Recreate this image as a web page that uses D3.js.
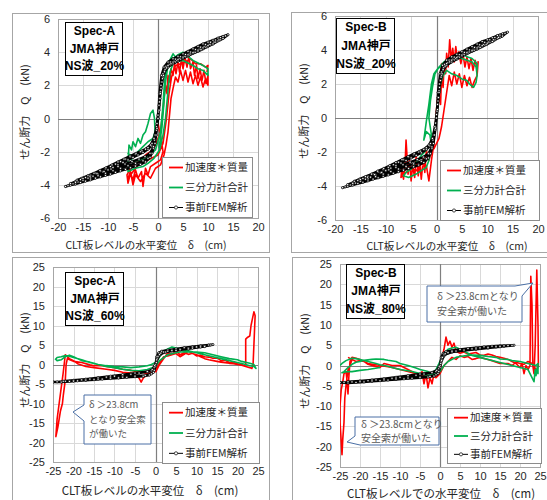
<!DOCTYPE html>
<html>
<head>
<meta charset="utf-8">
<script src="https://cdn.jsdelivr.net/npm/d3@7"></script>
<style>
  body { margin: 0; background: #fff; }
  text { font-family: "Liberation Sans", "Noto Sans CJK JP", sans-serif; }
</style>
</head>
<body>
<div id="chart"></div>
<script>
// ---------------------------------------------------------------
// data  [delta (cm), Q (kN)]
// ---------------------------------------------------------------
var legendLabels = ["加速度＊質量", "三分力計合計", "事前FEM解析"];
var specA20 = ["Spec-A", "JMA神戸", "NS波_20%"];
var specB20 = ["Spec-B", "JMA神戸", "NS波_20%"];
var specA60 = ["Spec-A", "JMA神戸", "NS波_60%"];
var specB80 = ["Spec-B", "JMA神戸", "NS波_80%"];
var ticksTopX = [-20, -15, -10, -5, 0, 5, 10, 15, 20];
var ticksTopY = [-6, -4, -2, 0, 2, 4, 6];
var ticksBotX = [-25, -20, -15, -10, -5, 0, 5, 10, 15, 20, 25];
var ticksBotY = [-25, -20, -15, -10, -5, 0, 5, 10, 15, 20, 25];

// FEM loops of the 20% runs (same for Spec-A and Spec-B)
var femTop = [
  [0,0],[0.3,1.5],[0.7,2.6],[1.2,3.1],[2,3.4],[3,3.6],[4,3.75],[5,3.9],[6,4.05],[7,4.2],[8,4.35],[9,4.5],[10,4.6],[11,4.72],[12,4.85],[13,4.95],[14,5.05],
  [13,4.82],[12,4.68],[11,4.5],[10,4.36],[9,4.2],[8,4.05],[7,3.92],[6,3.78],[5,3.62],[4,3.46],[3,3.3],[2,3.1],[1.3,2.8],[0.7,2.2],[0.3,1.2],[0,0.2],[-0.3,-0.7],[-0.7,-1.3],[-1.3,-1.65],[-2,-1.85],[-3,-2.05],[-4,-2.2],[-5,-2.35],[-6,-2.5],[-7,-2.65],[-8,-2.8],[-9,-2.95],[-10,-3.1],[-11,-3.22],[-12,-3.35],[-13,-3.48],[-14,-3.6],[-15,-3.72],[-16,-3.83],[-17,-3.94],[-18,-4.05],[-18.5,-4.1],
  [-17.5,-4.02],[-16.5,-3.95],[-15.5,-3.86],[-14.5,-3.78],[-13.5,-3.7],[-12.5,-3.6],[-11.5,-3.52],[-10.5,-3.43],[-9.5,-3.35],[-8.5,-3.25],[-7.5,-3.16],[-6.5,-3.07],[-5.5,-2.97],[-4.5,-2.87],[-3.5,-2.77],[-2.5,-2.62],[-1.6,-2.35],[-0.9,-1.8],[-0.4,-1.0],[0,0],[0.3,1.0],[0.6,2.0],[1,2.7],[1.6,3.15],[2.5,3.4],[3.5,3.58],[4.5,3.72],[5.5,3.86],[6.5,4.0],[7.5,4.15],[8.5,4.3],[9.5,4.45],[10.5,4.6],[11.5,4.73],[12.5,4.87],[13.5,4.98],
  [12.5,4.75],[11.5,4.6],[10.5,4.45],[9.5,4.3],[8.5,4.16],[7.5,4.02],[6.5,3.88],[5.5,3.73],[4.5,3.58],[3.5,3.42],[2.5,3.25],[1.6,3.0],[1,2.5],[0.5,1.6],[0.1,0.4],[-0.3,-0.5],[-0.8,-1.2],[-1.5,-1.6],[-2.5,-1.85],[-3.5,-2.0],[-4.5,-2.15],[-5.5,-2.3],[-6.5,-2.45],[-7.5,-2.6],[-8.5,-2.75],[-9.5,-2.9],[-10.5,-3.03],[-11.5,-3.17],[-12.5,-3.3],[-13.5,-3.43],[-14.5,-3.56],[-15.5,-3.68],[-16.5,-3.8],[-17.5,-3.92],
  [-16.5,-3.85],[-15,-3.72],[-13.5,-3.58],[-12,-3.45],[-10.5,-3.3],[-9,-3.15],[-7.5,-3.0],[-6,-2.85],[-4.5,-2.7],[-3,-2.55],[-2,-2.4],[-1.2,-2.1],[-0.6,-1.5],[-0.2,-0.6],[0.2,0.5],[0.5,1.5],[0.9,2.4],[1.4,2.95],[2.2,3.25],[3.2,3.45],[4.2,3.6],[5.2,3.74],[6.2,3.88],[7.2,4.02],[8.2,4.17],[9.2,4.32],[10.2,4.46],[11.2,4.6],[12.2,4.74],
  [11,4.5],[9.8,4.32],[8.6,4.15],[7.4,3.98],[6.2,3.82],[5,3.66],[3.8,3.5],[2.6,3.3],[1.7,3.05],[1.1,2.6],[0.6,1.8],[0.2,0.8],[-0.2,-0.3],[-0.6,-1.0],[-1.2,-1.5],[-2,-1.75],[-3.2,-1.95],[-4.4,-2.1],[-5.6,-2.27],[-6.8,-2.45],[-8,-2.62],[-9.2,-2.8],[-10.4,-2.97],[-11.6,-3.13],[-12.8,-3.3],[-14,-3.45],[-15.2,-3.6],[-16.2,-3.72],
  [-15,-3.62],[-13.6,-3.48],[-12.2,-3.33],[-10.8,-3.2],[-9.4,-3.05],[-8,-2.9],[-6.6,-2.75],[-5.2,-2.6],[-3.8,-2.45],[-2.6,-2.3],[-1.6,-2.1],[-0.9,-1.7],[-0.4,-1.0],[0,0],[0.4,1.2],[0.8,2.2],[1.3,2.85],[2,3.2],[3,3.4],[4,3.55],[5,3.7],[6,3.84],[7,3.98],[8,4.12],[9,4.26],[10,4.4]
];

var redA20 = [
  [0,-0.3],[0.6,-1.2],[1,-2],[0.5,-2.5],[-0.5,-2.7],[-1.5,-2.9],[-2,-3.4],[-2.5,-3.0],[-3,-4.1],[-3.3,-3.2],[-4,-3.6],[-4.5,-3.1],[-5,-3.7],[-5.5,-3.3],[-6,-3.9],[-6.2,-3.4],[-5.5,-3.0],[-4.5,-2.6],[-3.5,-2.5],[-2.5,-2.2],[-1.5,-2.0],[-0.5,-1.6],[0.5,-0.8],[1,0.5],[1.3,1.5],[1.5,2.0],[1.8,1.5],[2,2.6],[2.3,2.2],[2.6,3.0],[3,2.6],[3.3,3.3],[3.6,2.7],[4,3.4],[4.3,2.8],[4.7,3.6],[5,3.0],[5.4,3.7],[5.8,3.1],[6.2,3.8],[6.5,3.0],[7,3.4],[7.3,2.6],[7.7,3.2],[8,2.4],[8.4,3.0],[8.8,2.3],[9.2,2.9],[9.6,2.1],[10,2.6],
  [10,2.0],[9.5,2.4],[9,1.9],[8.5,2.5],[8,2.0],[7.5,2.6],[7,2.1],[6.5,2.8],[6,2.2],[5.5,2.9],[5,2.3],[4.5,2.9],[4,2.2],[3.5,2.5],[3,1.8],[2.6,1.2],[2.3,0.2],[2,-0.8],[1.6,-1.6],[1.2,-2.2],[0.5,-2.8],[-0.5,-3.0],[-1.5,-3.6],[-2.5,-3.3],[-3.5,-3.8],[-4.5,-3.4],[-5,-4.0],[-5.5,-3.2],[-6,-3.6],
  [-4,-2.8],[-2,-2.5],[0,-2.2],[1,-1.5],[1.7,0],[2.2,1.5],[2.7,2.5],[3.5,3.2],[4.5,3.3],[5.5,3.4],[6.5,3.6],[7.5,3.3],[8.5,3.3],[9.5,3.1],[10,3.2],[9.8,2.8]
];
var greenA20 = [
  [0.2,-1.8],[0.8,-0.5],[1.2,1],[1.5,2.2],[1.9,3.0],[2.5,3.6],[3,3.9],[3.5,3.7],[4,3.85],[5,4.0],[5.5,3.8],[6,3.75],[7,3.5],[8,3.35],[9,3.2],[10,3.0],[10,2.6],[9,2.9],[8,3.0],[7,3.2],[6,3.35],[5,3.5],[4,3.45],[3,3.3],[2.4,2.8],[2.1,2.0],[1.8,1.0],[1.5,0],[1.0,-1.0],[0.3,-1.9],[-0.8,-2.4],[-2,-2.7],[-3,-2.9],[-4.5,-3.0],[-6,-3.2],
  [-6,-2.6],[-5.8,-1.6],[-5.3,-1.9],[-5,-1.4],[-4.5,-1.7],[-4,-1.2],[-3.5,-1.5],[-3,-1.0],[-2.5,-0.8],[-2,-0.3],[-1.5,0.3],[-1,0.5],[-0.7,0],[-0.6,-0.8],[-1,-1.2],[-2,-1.4],[-3,-1.7],[-4,-2.0],[-5,-2.3],[-6,-2.1],[-5,-2.6],[-3.5,-2.5],[-2,-2.3],[-0.5,-1.9],[0.5,-0.8],[1,0.8],[1.3,2.2],[1.7,3.1],[2.3,3.5],[3,3.7]
];

var redB20 = [
  [0,0],[0.4,1.5],[0.8,0.8],[1,2.5],[1.3,1.8],[1.5,3.2],[1.8,2.6],[2,3.8],[2.3,3.0],[2.6,4.6],[2.9,3.4],[3.2,4.1],[3.5,3.3],[3.8,4.2],[4.1,3.5],[4.4,3.9],[4.8,3.2],[5.2,3.8],[5.6,3.0],[6,3.6],[6.4,2.9],[6.8,3.5],[7.2,2.8],[7.6,3.4],[8,2.9],[8.2,3.3],
  [8,2.5],[7.5,2.2],[7,1.8],[6.5,2.4],[6,1.9],[5.5,2.5],[5,1.8],[4.5,2.6],[4,2.0],[3.5,2.7],[3,1.9],[2.5,2.5],[2,1.5],[1.5,0.5],[1,-0.5],[0.5,-1.2],[0,-1.5],[-0.5,-1.8],[-1,-2.0],[-1.5,-2.5],[-2,-1.9],[-2.3,-3.2],[-2.6,-2.4],[-3,-3.6],[-3.3,-2.6],[-3.6,-3.4],[-4,-2.2],[-4.3,-3.5],[-4.7,-2.8],[-5,-3.7],[-5.3,-2.5],[-5.6,-3.3],[-6,-1.3],[-6.2,-2.8],[-6.5,-3.6],[-6.8,-2.9],[-7,-3.5],
  [-6,-3.2],[-5,-3.0],[-4,-3.1],[-3,-2.7],[-2,-2.8],[-1.5,-3.7],[-1,-2.5],[-0.5,-1.5],[0,0.5],[0.5,2],[1,3.2],[1.5,2.8],[2,3.6]
];
var greenB20 = [
  [-0.5,-1.5],[-1,-1.0],[-1.5,0],[-1.2,1],[-0.8,1.8],[-0.3,2.6],[0.3,2.9],[1,3.1],[2,3.3],[3,3.5],[4,3.6],[5,3.5],[6,3.4],[7,3.3],[7.8,3.0],[8,2.5],[7.8,2.1],[7.3,1.8],[6.5,2.0],[6,2.2],[5,2.3],[4,2.5],[3,2.6],[2,2.8],[1.3,2.5],[0.8,2.0],[0.3,1.0],[0,0],[-0.5,-0.8],[-1.2,-1.5],[-2,-1.9],[-3,-2.2],[-4,-2.6],[-5,-3.0],[-6,-3.2],[-6.5,-3.4],
  [-5.5,-3.5],[-4,-3.3],[-3,-3.1],[-2,-2.9],[-1.5,-2.5],[-1,-1.6],[-1.3,-1.0],[-2,-0.8],[-2.5,-1.3],[-2,-0.2],[-1.5,0.8],[-1,2.0],[-0.5,2.6],[0.5,3.0],[1.5,3.3],[3,3.6],[5,3.8],[6,3.6],[7,3.5],[8,3.2],[8,2.8]
];

var femA60 = [
  [0,0],[0.3,2],[0.8,3],[1.5,3.4],[3,3.7],[5,4.0],[7,4.3],[9,4.55],[11,4.8],[13,5.0],[14,5.1],
  [12,4.7],[10,4.4],[8,4.1],[6,3.8],[4,3.5],[2,3.1],[1,2.4],[0.3,1],[-0.3,-0.8],[-1,-1.6],[-2,-1.9],[-4,-2.2],[-6,-2.5],[-8,-2.75],[-10,-3.0],[-12,-3.25],[-14,-3.5],[-16,-3.75],[-18,-3.95],[-20,-4.15],[-22,-4.3],[-24,-4.45],[-25,-4.5],
  [-23,-4.5],[-21,-4.35],[-19,-4.2],[-17,-4.05],[-15,-3.9],[-13,-3.75],[-11,-3.6],[-9,-3.45],[-7,-3.3],[-5,-3.15],[-3,-3.0],[-1.5,-2.7],[-0.5,-2],[0,-0.5],[0.4,1.5],[1,2.7],[2,3.2],[4,3.6],[6,3.9],[8,4.2],[10,4.5],[12,4.8],[13.5,5.0],
  [11,4.5],[8,4.0],[5,3.6],[2.5,3.2],[1,2.6],[0.3,1.2],[-0.2,-0.3],[-0.8,-1.3],[-2,-1.8],[-5,-2.2],[-8,-2.6],[-11,-3.0],[-14,-3.4],[-17,-3.75],[-20,-4.05],[-22.5,-4.3],
  [-20,-4.25],[-17,-4.0],[-14,-3.75],[-11,-3.5],[-8,-3.25],[-5,-3.0],[-2.5,-2.8],[-1,-2.4],[-0.3,-1.5],[0.2,0.5],[0.6,2],[1.3,2.9],[3,3.4],[6,3.8],[9,4.2],[12,4.6]
];
var redA60 = [
  [0,-2],[1,0],[2,1.5],[3,3],[4,2.5],[5,3.5],[6,2.5],[7,3.0],[8,2.6],[9,2.9],[10,2.2],[11,2.4],[12,2.0],[13,1.9],[14,1.6],[15,1.7],[16,1.0],[17,1.1],[18,0.5],[19,0.6],[20,0.2],[21,0.1],[21.5,-0.3],[22,0],
  [22,6.5],[22.5,7],[23,7.3],[23.3,10],[23.7,12],[24,13.5],[24.3,12.5],[24.2,10],[23.8,0],[23.5,-1],[23,-0.8],[22,-0.5],[21,-0.2],[20,0],[19,0.2],[18,0.3],[16,0.6],[15,0.8],[13,1.2],[12,1.5],[11,2.0],[10,2.5],[9,2.8],[8,3.5],[7,2.6],[6,2.0],[5,2.8],[4,2.5],[3,2.2],[2,2],[1,0.5],[0,-1.5],
  [-1,-2.2],[-2,-2.5],[-2.5,-3.0],[-3,-3.5],[-3.5,-4.5],[-4,-3.5],[-5,-2.5],[-6,-2.2],[-8,-2],[-10,-1.5],[-12,-1.2],[-15,-0.8],[-17,-0.5],[-19,0.2],[-20,1],[-21,1.5],[-21.5,2],[-22,2.5],
  [-22.5,-2],[-23,-6],[-23.5,-10],[-24,-14],[-24.3,-18.5],[-23.8,-16],[-23.2,-12],[-22.7,-10],[-22.5,-8],[-22,-4],[-21.8,0],[-21.5,1.5],[-20,0.8],[-18,0.5],[-16,-0.1],[-15,-0.3],[-13,-0.3],[-12,-0.5],[-10,-0.8],[-8,-1.2],[-6,-1.5],[-5,-1.8],[-3,-2.0],[-2,-2.5],[-1,-2.0],[0,-1]
];
var greenA60 = [
  [-24.5,1.2],[-24,1.8],[-23,2.0],[-22,2.3],[-21,2.1],[-20,1.8],[-18,1.2],[-16,0.5],[-14,0],[-12,-0.3],[-10,-0.5],[-8,-0.6],[-6,-0.8],[-4,-0.6],[-2,-0.3],[-1,0],[0,0.5],[1,2],[2,3.5],[3,4.0],[4,4.5],[5,4.2],[6,4.0],[8,3.5],[10,3.0],[12,2.5],[14,2.0],[16,1.5],[18,1.0],[20,0.5],[22,0],[23,-0.3],[24,-0.5],[24.5,-1],
  [24,0],[23,0.3],[21,0.8],[20,1.2],[18,1.5],[16,2.0],[14,2.5],[12,3.0],[10,3.2],[8,3.3],[6,3.2],[5,3.0],[3,2.5],[1,1],[0,-0.5],[-2,-1.3],[-4,-1.6],[-6,-1.5],[-8,-1.2],[-10,-0.8],[-12,-0.5],[-14,0],[-15,0.3],[-16,0.6],[-18,1.0],[-20,2.0],[-21,2.4],[-22,2.0],[-23,1.2],[-24,1.0],[-24.5,1.5]
];

var femB80 = [
  [0,0],[0.3,2],[0.8,3],[1.5,3.4],[3,3.7],[5,3.95],[7,4.2],[9,4.4],[11,4.6],[13,4.75],[15,4.85],[17,4.95],[18.5,5.0],
  [16,4.7],[14,4.55],[12,4.4],[10,4.2],[8,4.0],[6,3.75],[4,3.5],[2,3.1],[1,2.4],[0.3,1],[-0.3,-0.8],[-1,-1.5],[-2,-1.8],[-4,-2.1],[-6,-2.4],[-8,-2.65],[-10,-2.9],[-12,-3.15],[-14,-3.35],[-16,-3.55],[-18,-3.75],[-20,-3.9],[-22,-4.05],[-24,-4.15],[-25,-4.2],
  [-23,-4.3],[-21,-4.2],[-19,-4.05],[-17,-3.9],[-15,-3.75],[-13,-3.6],[-11,-3.45],[-9,-3.3],[-7,-3.15],[-5,-3.0],[-3,-2.85],[-1.5,-2.6],[-0.5,-2],[0,-0.5],[0.4,1.5],[1,2.7],[2,3.2],[4,3.55],[6,3.85],[8,4.1],[10,4.35],[12,4.55],[14,4.72],[16,4.85],[18,4.95],
  [15,4.6],[12,4.3],[9,4.0],[6,3.7],[3,3.3],[1.2,2.7],[0.4,1.2],[-0.2,-0.3],[-0.8,-1.2],[-2,-1.7],[-5,-2.1],[-8,-2.5],[-11,-2.9],[-14,-3.25],[-17,-3.55],[-20,-3.8],[-23,-4.0],
  [-20,-4.0],[-17,-3.8],[-14,-3.55],[-11,-3.3],[-8,-3.1],[-5,-2.9],[-2.5,-2.7],[-1,-2.3],[-0.3,-1.5],[0.2,0.5],[0.6,2],[1.3,2.9],[3,3.4],[6,3.8],[9,4.1],[12,4.4],[15,4.7]
];
var redB80 = [
  [-22,1.5],[-22.5,0],[-23,-1],[-23.5,-5],[-23.8,-8],[-24,-14],[-24.3,-18],[-24.5,-22],[-24.8,-17],[-25,-14],[-25,-10],[-24.7,-6],[-24.3,-4],[-24,-2],[-23.5,-1.5],[-23.2,-4],[-23,-7],[-22.8,-3],[-22.5,1],[-22,2],
  [-21,1.8],[-20,1.5],[-18,0.5],[-16,0.2],[-15,0],[-13,-0.3],[-12,-0.5],[-10,-1],[-8,-1.5],[-6,-2],[-5,-3],[-4.5,-1.5],[-4,-4.5],[-3.5,-2],[-3,-5.5],[-2.5,-3],[-2,-4.5],[-1.5,-2],[-1,-2.5],[0,-1],
  [0.5,2],[1,4],[1.5,7],[2,5],[2.5,6],[3,4.5],[3.5,5.5],[4,3.5],[5,3.0],[6,3.3],[7,2.8],[8,3.0],[9,3.2],[10,2.6],[11,2.5],[12,2.8],[13,2.6],[14,2.2],[15,2.0],[16,1.8],[17,1.5],[18,1.0],[19,0.5],[20,-0.5],[20.5,0.5],[21,-2],[21.5,0],[22,-1],[22.5,0],
  [22.7,22],[23,15],[23.2,0],[23.5,-2],[23.8,5],[24.2,23.5],[24.5,10],[24.6,0],[24.3,-1],[24,-1],[23,0.5],[22,1],[21,0.3],[20,0.5],[19,0.8],[18,0],[17,0.5],[15,0.5],[13,1.2],[12,1.5],[10,2],[9,1.7],[8,1.5],[7,2.2],[6,2],[5,2.4],[4,1.5],[3,2],[2,1],[1,0],[0,-2],
  [-1,-3],[-2,-2.5],[-3,-3],[-4,-2.5],[-6,-2],[-8,-1],[-9,-0.5],[-10,0],[-12,0],[-14,0.5],[-15,-0.5],[-17,0],[-18,0.3],[-19,1],[-20,1.2],[-21,1],[-22,1.5],[-23,2]
];
var greenB80 = [
  [-25,0],[-24.5,0.5],[-23.5,1.2],[-22,1.8],[-21,1.7],[-20,1.5],[-18,1.0],[-16,0.5],[-15,0.2],[-13,-0.2],[-12,-0.5],[-10,-1],[-8,-1.3],[-7,-1.5],[-5,-2],[-3,-2.5],[-2,-2.0],[-1,-1],[0,1],[0.5,2],[1,3],[2,4],[3,4.3],[4,4.5],[5,4.0],[6,3.5],[7,3.0],[8,2.5],[10,2.0],[12,1.5],[14,1.0],[16,0.5],[18,0],[20,-0.5],[22,-1],
  [22.5,-2],[23,-3],[23.5,-4],[23.8,-1],[24,-2.5],[24.3,-0.5],[24.5,-2],[24.5,0.5],[24,0],[22,0.5],[20,1],[18,1.2],[17,1.5],[15,1.6],[14,2],[12,2.2],[10,2.5],[8,2.6],[7,2.5],[5,2.2],[4,2],[2,1],[1,0],[0,-1.5],
  [-1,-2],[-2,-2.2],[-3,-1.5],[-5,-1],[-6,-0.6],[-8,0],[-10,0.5],[-11,1],[-13,1.3],[-14,1.5],[-16,1.6],[-17,1.5],[-19,1.3],[-20,1.0],[-21,0.8],[-22,0.3],[-23,-0.5],[-24,-1.5],[-24.5,-1.8],[-23,-1.5],[-22,-1.5],[-20,-1.2],[-18,-1],[-15,-0.5]
];

// ---------------------------------------------------------------
// layout of the four panels (pixels)
// ---------------------------------------------------------------
var panels = [
  { frame: [12, 13, 269, 252], plot: [58, 19, 258, 218], xd: [-20, 20], yd: [-6, 6],
    xt: ticksTopX, yt: ticksTopY, fs: 11, spec: specA20, box: [65, 22, 57, 53],
    legend: [162, 157, 90, 60], ylab: [25, 112], xlab: [146, 245, "CLT板レベルの水平変位　δ　(cm)"],
    red: redA20, green: greenA20, fem: femTop, callouts: [] },
  { frame: [291, 12, 549, 252], plot: [335, 16, 538, 220], xd: [-20, 20], yd: [-6, 6],
    xt: ticksTopX, yt: ticksTopY, fs: 11, spec: specB20, box: [336, 18, 58, 55],
    legend: [440, 160, 99, 60], ylab: [304, 111], xlab: [447, 246, "CLT板レベルの水平変位　δ　(cm)"],
    red: redB20, green: greenB20, fem: femTop, callouts: [] },
  { frame: [12, 257, 269, 502], plot: [53, 267, 258, 462], xd: [-25, 25], yd: [-25, 25],
    xt: ticksBotX, yt: ticksBotY, fs: 11, spec: specA60, box: [65, 272, 58, 53],
    legend: [162, 402, 97, 61], ylab: [25, 360], xlab: [150, 491, "CLT板レベルの水平変位　δ　(cm)"],
    red: redA60, green: greenA60, fem: femA60,
    callouts: [{ path: "M84,395H151V444H84V421L73,412L84,405Z", x: 89, fs: 9.5, lines: [[405, "δ ＞23.8cm"], [419.5, "となり安全索"], [434, "が働いた"]] }] },
  { frame: [292, 257, 549, 502], plot: [340, 264, 540, 467], xd: [-25, 25], yd: [-25, 25],
    xt: ticksBotX, yt: ticksBotY, fs: 11, spec: specB80, box: [346, 264, 58, 54],
    legend: [447, 408, 94, 55], ylab: [305, 361], xlab: [441, 494, "CLT板レベルでの水平変位　δ　(cm)"],
    red: redB80, green: greenB80, fem: femB80,
    callouts: [
      { path: "M427,286H515L533,283L522,296V322H427Z", x: 437, fs: 10, lines: [[296, "δ ＞23.8cmとなり"], [311, "安全索が働いた"]] },
      { path: "M355,417H439V445H360L347,442L355,436Z", x: 361, fs: 10, lines: [[424, "δ ＞23.8cmとなり"], [438, "安全索が働いた"]] }
    ] }
];

var colors = { red: "#ff0000", green: "#00b050", fem: "#000000" };

var svg = d3.select("#chart").append("svg")
    .attr("width", 547)
    .attr("height", 500);

function minus(d) { return d < 0 ? "-" + Math.abs(d) : String(d); }

panels.forEach(function (p, i) {
  var g = svg.append("g");
  var x = d3.scaleLinear().domain(p.xd).range([p.plot[0], p.plot[2]]);
  var y = d3.scaleLinear().domain(p.yd).range([p.plot[3], p.plot[1]]);

  // chart frame
  g.append("rect")
      .attr("x", p.frame[0] + 0.5).attr("y", p.frame[1] + 0.5)
      .attr("width", p.frame[2] - p.frame[0]).attr("height", p.frame[3] - p.frame[1])
      .attr("fill", "#fff").attr("stroke", "#a6a6a6");

  // grid
  g.selectAll(".gx").data(p.xt).enter().append("line")
      .attr("x1", function (d) { return Math.round(x(d)) + 0.5; })
      .attr("x2", function (d) { return Math.round(x(d)) + 0.5; })
      .attr("y1", p.plot[1]).attr("y2", p.plot[3])
      .attr("stroke", "#d9d9d9");
  g.selectAll(".gy").data(p.yt).enter().append("line")
      .attr("y1", function (d) { return Math.round(y(d)) + 0.5; })
      .attr("y2", function (d) { return Math.round(y(d)) + 0.5; })
      .attr("x1", p.plot[0]).attr("x2", p.plot[2])
      .attr("stroke", "#d9d9d9");

  // plot border
  g.append("rect")
      .attr("x", p.plot[0] + 0.5).attr("y", p.plot[1] + 0.5)
      .attr("width", p.plot[2] - p.plot[0]).attr("height", p.plot[3] - p.plot[1])
      .attr("fill", "none").attr("stroke", "#a6a6a6");

  // zero axes
  g.append("line")
      .attr("x1", p.plot[0]).attr("x2", p.plot[2])
      .attr("y1", Math.round(y(0)) + 0.5).attr("y2", Math.round(y(0)) + 0.5)
      .attr("stroke", "#7f7f7f").attr("stroke-width", 1.2);
  g.append("line")
      .attr("y1", p.plot[1]).attr("y2", p.plot[3])
      .attr("x1", Math.round(x(0)) + 0.5).attr("x2", Math.round(x(0)) + 0.5)
      .attr("stroke", "#7f7f7f").attr("stroke-width", 1.2);

  // tick labels
  var ax = g.append("g")
      .attr("transform", "translate(0," + p.plot[3] + ")")
      .call(d3.axisBottom(x).tickValues(p.xt).tickSize(0).tickPadding(5).tickFormat(minus));
  var ay = g.append("g")
      .attr("transform", "translate(" + p.plot[0] + ",0)")
      .call(d3.axisLeft(y).tickValues(p.yt).tickSize(0).tickPadding(8).tickFormat(minus));
  [ax, ay].forEach(function (a) {
    a.select(".domain").remove();
    a.selectAll("text").attr("fill", "#262626")
        .style("font-size", p.fs + "px")
        .style("font-family", "'Liberation Sans', Arial, sans-serif");
  });

  // axis titles
  g.append("text")
      .attr("transform", "translate(" + p.ylab[0] + "," + p.ylab[1] + ") rotate(-90)")
      .attr("text-anchor", "middle").attr("dy", "0.35em")
      .style("font-family", "'Noto Sans CJK JP', sans-serif")
      .style("font-size", "11px").attr("fill", "#262626")
      .text("せん断力　Q　(kN)");
  g.append("text")
      .attr("x", p.xlab[0]).attr("y", p.xlab[1])
      .attr("text-anchor", "middle").attr("dy", "0.35em")
      .style("font-family", "'Noto Sans CJK JP', sans-serif")
      .style("font-size", i < 2 ? "10.5px" : "11.5px").attr("fill", "#262626")
      .text(p.xlab[2]);

  // series
  var clipId = "clip" + i;
  g.append("clipPath").attr("id", clipId).append("rect")
      .attr("x", p.plot[0]).attr("y", p.plot[1])
      .attr("width", p.plot[2] - p.plot[0]).attr("height", p.plot[3] - p.plot[1]);
  var data = g.append("g").attr("clip-path", "url(#" + clipId + ")");
  var line = d3.line().x(function (d) { return x(d[0]); }).y(function (d) { return y(d[1]); });

  data.append("path").datum(p.red).attr("d", line)
      .attr("fill", "none").attr("stroke", colors.red).attr("stroke-width", 1.6)
      .attr("stroke-linejoin", "round");
  data.append("path").datum(p.green).attr("d", line)
      .attr("fill", "none").attr("stroke", colors.green).attr("stroke-width", 1.6)
      .attr("stroke-linejoin", "round");
  data.append("path").datum(p.fem).attr("d", line)
      .attr("fill", "none").attr("stroke", colors.fem).attr("stroke-width", 2.4)
      .attr("stroke-linejoin", "round");
  data.selectAll(".pt").data(p.fem).enter().append("circle")
      .attr("cx", function (d) { return x(d[0]); })
      .attr("cy", function (d) { return y(d[1]); })
      .attr("r", 1.1)
      .attr("fill", "#fff").attr("stroke", "#000").attr("stroke-width", 0.7);

  // spec box
  g.append("rect")
      .attr("x", p.box[0] + 0.5).attr("y", p.box[1] + 0.5)
      .attr("width", p.box[2]).attr("height", p.box[3])
      .attr("fill", "#fff").attr("stroke", "#000");
  g.selectAll(".spec").data(p.spec).enter().append("text")
      .attr("x", p.box[0] + p.box[2] / 2 + 1)
      .attr("y", function (d, k) { return p.box[1] + p.box[3] * (k * 2 + 1) / 6; })
      .attr("dy", "0.36em").attr("text-anchor", "middle")
      .style("font-family", "'Liberation Sans', 'Noto Sans CJK JP', sans-serif")
      .style("font-weight", "bold").style("font-size", "12px").attr("fill", "#000")
      .text(function (d) { return d; });

  // legend
  var L = p.legend;
  g.append("rect")
      .attr("x", L[0] + 0.5).attr("y", L[1] + 0.5)
      .attr("width", L[2]).attr("height", L[3])
      .attr("fill", "#fff").attr("stroke", "#8c8c8c");
  var keys = [colors.red, colors.green, colors.fem];
  keys.forEach(function (c, k) {
    var yy = L[1] + L[3] * (k * 2 + 1) / 6 + 0.5;
    g.append("line").attr("x1", L[0] + 7).attr("x2", L[0] + 21)
        .attr("y1", yy).attr("y2", yy)
        .attr("stroke", c).attr("stroke-width", k == 2 ? 1 : 1.8);
    if (k == 2) {
      g.append("circle").attr("cx", L[0] + 14).attr("cy", yy).attr("r", 1.6)
          .attr("fill", "#fff").attr("stroke", "#000").attr("stroke-width", 0.7);
    }
    g.append("text").attr("x", L[0] + 23).attr("y", yy).attr("dy", "0.35em")
        .style("font-family", "'Noto Sans CJK JP', sans-serif")
        .style("font-size", "10.5px").attr("fill", "#262626")
        .text(legendLabels[k]);
  });

  // callouts
  p.callouts.forEach(function (c) {
    g.append("path").attr("d", c.path)
        .attr("fill", "#fff").attr("stroke", "#4a6fa5").attr("stroke-width", 1);
    c.lines.forEach(function (t) {
      g.append("text").attr("x", c.x).attr("y", t[0]).attr("dy", "0.35em")
          .style("font-family", "'Noto Sans CJK JP', sans-serif")
          .style("font-size", c.fs + "px").attr("fill", "#595959")
          .text(t[1]);
    });
  });
});
</script>
</body>
</html>
